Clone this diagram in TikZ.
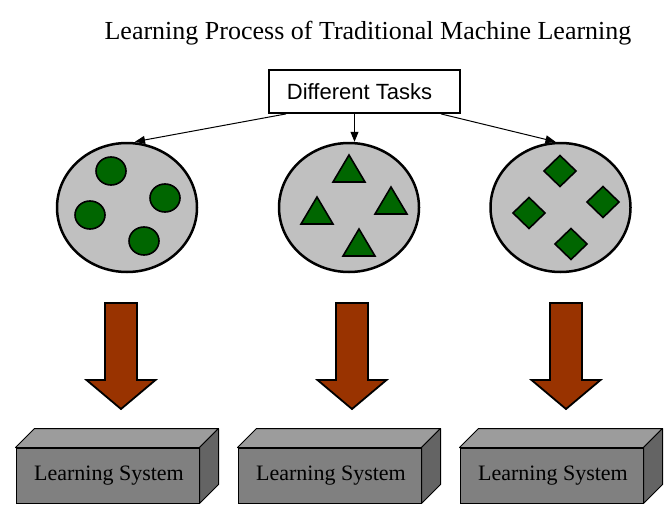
\documentclass[tikz,border=0pt]{standalone}
\usepackage{fontspec}
\setmainfont{Liberation Serif}
\newfontfamily\arialfont{Liberation Sans}
\usetikzlibrary{arrows.meta,shapes.geometric}
\definecolor{silverfill}{HTML}{C0C0C0}
\definecolor{dkgreen}{HTML}{006600}
\definecolor{brownred}{HTML}{993300}
\definecolor{frontgray}{HTML}{808080}
\definecolor{topgray}{HTML}{9C9C9C}
\definecolor{sidegray}{HTML}{646464}
\tikzset{
  blob/.style={ellipse, draw, line width=2.5pt, fill=silverfill, minimum width=140pt, minimum height=129pt, inner sep=0pt},
  item/.style={draw, line width=1.6pt, fill=dkgreen},
  taskbox/.style={draw, line width=1.8pt, fill=white, minimum width=191pt, minimum height=43pt, inner sep=0pt, font=\arialfont\fontsize{22}{26}\selectfont},
  thinarrow/.style={line width=1pt, -{Triangle[length=10pt,width=8pt]}},
  sysfront/.style={draw, line width=1pt, fill=frontgray, minimum width=183pt, minimum height=55pt, inner sep=0pt, font=\fontsize{22}{26}\selectfont},
  sysface/.style={draw, line width=1pt, line join=round},
  bigarrowstyle/.style={draw, line width=1.8pt, fill=brownred, line join=miter},
  dia/.pic={\draw[item] (0,-15.5) -- (16,0) -- (0,15.5) -- (-16,0) -- cycle;},
  tri/.pic={\draw[item] (0,0) -- (16,27) -- (-16,27) -- cycle;},
  dot/.pic={\draw[item] (0,0) ellipse [x radius=15, y radius=14];},
  bigarrow/.pic={\draw[bigarrowstyle] (-16,0) -- (16,0) -- (16,77) -- (34.5,77) -- (0,106) -- (-34.5,77) -- (-16,77) -- cycle;}
}
\begin{document}
\begin{tikzpicture}[x=1pt,y=-1pt]
\useasboundingbox (0,0) rectangle (671,527);

\node[font=\fontsize{26}{30}\selectfont] (title) at (368,33) {Learning Process of Traditional Machine Learning};

\node[taskbox] (tasks) at (364.5,91.5) {Different Tasks\hspace*{10pt}};

\node[blob] (e1) at (127,207.5) {};
\node[blob] (e2) at (349,207.5) {};
\node[blob] (e3) at (560.5,207.5) {};

\coordinate (mstart) at ([xshift=-10pt]tasks.south);
\draw[thinarrow] ([xshift=18pt]tasks.south west) -- ([xshift=8pt]e1.north);
\draw[thinarrow] (mstart) -- (mstart |- e2.north);
\draw[thinarrow] ([xshift=-20pt]tasks.south east) -- ([xshift=-5pt]e3.north);

% circles
\pic at (111,171) {dot};
\pic at (165,198) {dot};
\pic at (90,215) {dot};
\pic at (144,241) {dot};

% triangles
\pic at (349,155) {tri};
\pic at (391,187) {tri};
\pic at (317,197) {tri};
\pic at (359,229) {tri};

% diamonds
\pic at (560,171) {dia};
\pic at (603,202) {dia};
\pic at (529,213) {dia};
\pic at (571,244) {dia};

% big arrows
\pic at (121,303) {bigarrow};
\pic at (352,303) {bigarrow};
\pic at (566,303) {bigarrow};

% learning systems
\foreach \n/\x in {s1/107.5, s2/329.5, s3/551.5}{
  \node[sysfront] (\n) at (\x,475.5) {\hspace*{3pt}Learning System};
  \draw[sysface, fill=topgray] (\n.north west) -- ++(19,-19) -- ([shift={(19,-19)}]\n.north east) -- (\n.north east) -- cycle;
  \draw[sysface, fill=sidegray] (\n.north east) -- ++(19,-19) -- ([shift={(19,-19)}]\n.south east) -- (\n.south east) -- cycle;
}
\end{tikzpicture}
\end{document}
